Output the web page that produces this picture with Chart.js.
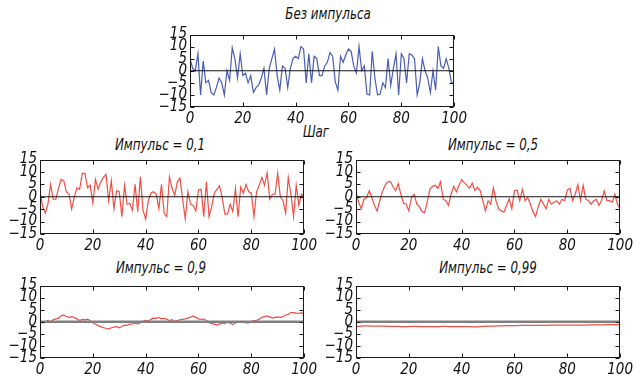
<!DOCTYPE html>
<html>
<head>
<meta charset="utf-8">
<script src="https://cdn.jsdelivr.net/npm/chart.js@4.4.1/dist/chart.umd.min.js"></script>
<style>
  html, body { margin: 0; padding: 0; background: #fff; overflow: hidden; }
  body { width: 641px; height: 387px; position: relative; }
  canvas { position: absolute; }
  .ttl {
    position: absolute; transform: translateX(-50%) scaleX(0.88); white-space: nowrap;
    font: italic 15px 'Liberation Sans Narrow', 'DejaVu Sans Condensed', sans-serif;
    line-height: 16px; color: #111;
  }
</style>
</head>
<body>

<div class="ttl" style="left:328px; top:6px;">Без импульса</div>
<div class="ttl" style="left:316px; top:124px;">Шаг</div>
<div class="ttl" style="left:160px; top:137px;">Импульс = 0,1</div>
<div class="ttl" style="left:493px; top:137px;">Импульс = 0,5</div>
<div class="ttl" style="left:161px; top:260px;">Импульс = 0,9</div>
<div class="ttl" style="left:488px; top:260px;">Импульс = 0,99</div>

<canvas id="c0" width="320" height="117" style="left:150px; top:24px;"></canvas>
<canvas id="c1" width="320" height="107" style="left:0px; top:149px;"></canvas>
<canvas id="c2" width="320" height="107" style="left:316px; top:149px;"></canvas>
<canvas id="c3" width="320" height="105" style="left:0px; top:275px;"></canvas>
<canvas id="c4" width="320" height="105" style="left:316px; top:275px;"></canvas>

<script>
// шаги 0..100
var steps = Array.from({ length: 101 }, function (_, i) { return i; });

var xTicks = [0, 20, 40, 60, 80, 100];
var yTicks = [-15, -10, -5, 0, 5, 10, 15];
var yTickLabels = ['\u221215', '\u221210', '\u22125', '0', '5', '10', '15'];

// без импульса
var noMomentum = [5, 1, 0, 7, -10, 4, -5, -4, -9, -10,
    -7, -3, -5, -10, 0, -4, 9.5, 5, -3, 7,
    -2, -1, -5, -2, -9, -7, -6, -3, 1, -10,
    1, 5, 9, -2, -8, 2, 1, -7, 1, 5,
    6, 5, 10, 9, -5, 7, -5, 6, 5, -2,
    -2, 2, 3.5, 7.5, 6, -4.6, -8, 6, 3.5, 6.6,
    9, 8, 2, -1, 10, 0, 2, -9.6, -10, 8,
    -3, -10, -9.6, -5, -7, 5, -6, 1, 7, -10,
    7, 5, -5, 7, 6.5, 5, -10, -5, 5, 0,
    -3, -9, 0, -8, 10, 2, 1, 5, 1, -5, -5];

// импульс 0,1
var momentum01 = [2, -4, -6.6, -3, 5, -1, -1, 3.4, 7, 6.5,
    2, 1, -5, 0, 3.6, 3, 9.4, 9.4, 3.6, 4.6,
    -2.5, 7, 3, 6, 7.8, 9, -1.6, 6.5, -4.8, 2.4,
    2, -8, 4.6, -3, -2.6, -5.4, 5, -6, 8, -5.4,
    -9, -1.6, 1.5, 2, 1, -4.8, 5, -6.6, -8, 8,
    3.5, 0.5, 6, 7.5, -1, -9, 2, -3, -3.5, -5.7,
    2.7, 3, -8, 6, -8, -4, 1.5, 3, 4.4, -0.4,
    -7, -7, -3, -6, 3.4, -8, 4, 1.5, 5, 2,
    1.5, -8, 2, 4.6, 7.8, 4.6, 9.6, -1, 1, 1,
    9.4, 0, -1.6, -6.6, 7.8, 1, -8, 4.6, -3.5, 1, 0];

// импульс 0,5
var momentum05 = [2, -2.2, -4.8, -1, -0.4, 2.4, -0.4, -3.5, -5.7, -1.6,
    2, 4.6, 6, 6.2, 4, 2.4, 5.2, 1, -2.6, -2.9,
    -5.7, -0.4, 1, -2.9, -4, -6, -6.4, -2, 3, 4.2,
    4.6, 3.4, 6, -1, -1.6, -3.5, 1, 4.2, 2, 4.6,
    6.9, 5.6, 4.6, 3.4, 5.5, 2.5, 3.8, 2.5, -1.5, -5.7,
    -1.6, -3, 3.6, -1.6, -4.8, -5.7, -6.2, -3.5, -0.8, -4.8,
    2.4, 2.7, -1.6, 3, -1.6, -0.4, -2.9, -6, -8, -4,
    -1, -3, -4.8, -1, -3, -2.2, -1.6, -3, -1, -1.6,
    2.7, 3.4, -1.6, 1, 4.9, -1.4, 4.6, -1, -1.6, -3,
    -1.6, -1, -3.5, -1.4, 2.4, -1.6, -1.6, -2.2, 1, -3, -4.8];

// импульс 0,9
var momentum09 = [0.2, -0.5, -0.1, 0.5, 0, 0.8, 1.2, 1.5, 2.5, 2.8,
    2.1, 1.8, 2.1, 1.7, 1.2, 0.5, 1, 0.8, 1.1, 0.5,
    -0.4, -1, -1.6, -2, -2.5, -2.7, -3, -2.5, -2.2, -2,
    -2.5, -2, -1.4, -1.5, -1, -0.9, -0.5, -1, -0.4, 0.2,
    0.6, 0.2, 1, 1.5, 1.4, 1.8, 1.2, 1.5, 1, 0.5,
    0.9, 0.2, 0.5, 0.8, 1, 1.2, 1.5, 1.9, 2.3, 1.8,
    1.2, 1, 1.1, 0.5, -0.4, -0.8, -1, -1.4, -1, -0.5,
    -0.8, -0.1, -0.6, -1.2, -0.5, 0, 0.2, -0.1, -0.5, -0.5,
    0.1, 0.5, 0.6, 1.1, 1.8, 2.1, 2.4, 2, 1.5, 1.8,
    2, 1.8, 2.1, 2.8, 3.1, 3.8, 3.8, 3.6, 3.5, 3.8, 2.8];

// импульс 0,99
var momentum099 = [-2.0, -1.9, -1.8, -1.7, -1.7, -1.7, -1.8, -1.8, -1.8, -1.8,
    -1.8, -1.8, -1.9, -1.9, -1.9, -1.9, -1.9, -2.0, -2.0, -2.0,
    -2.0, -1.9, -1.9, -1.9, -2.0, -2.0, -2.0, -2.0, -2.0, -2.0,
    -2.0, -2.0, -1.9, -1.9, -1.9, -2.0, -2.0, -2.0, -2.0, -2.0,
    -2.0, -2.0, -2.0, -2.0, -2.1, -2.1, -2.1, -2.0, -1.9, -1.9,
    -1.8, -1.8, -1.8, -1.7, -1.7, -1.7, -1.6, -1.6, -1.6, -1.6,
    -1.6, -1.6, -1.5, -1.5, -1.5, -1.5, -1.5, -1.5, -1.5, -1.5,
    -1.5, -1.5, -1.5, -1.4, -1.4, -1.4, -1.4, -1.4, -1.4, -1.4,
    -1.4, -1.4, -1.4, -1.4, -1.4, -1.4, -1.4, -1.4, -1.3, -1.3,
    -1.3, -1.3, -1.3, -1.3, -1.3, -1.2, -1.2, -1.2, -1.2, -1.2, -1.2];

var FONT = "'Liberation Sans Narrow', 'DejaVu Sans Condensed', sans-serif";

// рамка и засечки внутрь, как в matplotlib
var framePlugin = {
    id: 'frame',
    afterDraw: function (chart) {
        var ctx = chart.ctx, a = chart.chartArea;
        var sx = chart.scales.x, sy = chart.scales.y;
        var L = Math.round(a.left) + 0.5, R = Math.round(a.right) - 0.5;
        var T = Math.round(a.top) + 0.5, B = Math.round(a.bottom) - 0.5;
        ctx.save();
        ctx.strokeStyle = '#1a1a1a';
        ctx.lineWidth = 1;
        ctx.strokeRect(L, T, R - L, B - T);
        ctx.beginPath();
        xTicks.forEach(function (v) {
            var px = Math.round(sx.getPixelForValue(v)) + 0.5;
            ctx.moveTo(px, B); ctx.lineTo(px, B - 4);
            ctx.moveTo(px, T); ctx.lineTo(px, T + 4);
        });
        yTicks.forEach(function (v) {
            var py = Math.round(sy.getPixelForValue(v)) + 0.5;
            ctx.moveTo(L, py); ctx.lineTo(L + 4, py);
            ctx.moveTo(R, py); ctx.lineTo(R - 4, py);
        });
        ctx.stroke();
        ctx.restore();
    }
};

function toPoints(arr) {
    return arr.map(function (v, i) { return { x: steps[i], y: v }; });
}

function drawPanel(id, series, color, zeroColor, zeroWidth, xh) {
    var ctx = document.getElementById(id).getContext('2d');
    return new Chart(ctx, {
        type: 'line',
        data: {
            datasets: [{
                data: [{ x: steps[0], y: 0 }, { x: steps[steps.length - 1], y: 0 }],
                borderColor: zeroColor,
                borderWidth: zeroWidth,
                pointRadius: 0
            }, {
                data: toPoints(series),
                borderColor: color,
                borderWidth: 1.2,
                pointRadius: 0,
                tension: 0
            }]
        },
        options: {
            responsive: false,
            devicePixelRatio: 1,
            animation: false,
            events: [],
            layout: { autoPadding: false, padding: { left: 0, right: 8, top: 4, bottom: 0 } },
            plugins: { legend: { display: false }, tooltip: { enabled: false }, title: { display: false } },
            scales: {
                x: {
                    type: 'linear', min: 0, max: 100,
                    grid: { display: false, drawTicks: false },
                    border: { display: false },
                    afterBuildTicks: function (s) { s.ticks = xTicks.map(function (v) { return { value: v }; }); },
                    afterFit: function (s) { s.height = xh; },
                    ticks: {
                        autoSkip: false, maxRotation: 0, padding: 3, color: '#111',
                        font: { family: FONT, size: 15, style: 'italic' },
                        callback: function (v) { return String(v); }
                    }
                },
                y: {
                    min: -15, max: 15,
                    grid: { display: false, drawTicks: false },
                    border: { display: false },
                    afterBuildTicks: function (s) { s.ticks = yTicks.map(function (v) { return { value: v }; }); },
                    afterFit: function (s) { s.width = 40; },
                    ticks: {
                        autoSkip: false, padding: 3, color: '#111',
                        font: { family: FONT, size: 15, style: 'italic', lineHeight: 1 },
                        callback: function (v, i) { return yTickLabels[i]; }
                    }
                }
            }
        },
        plugins: [framePlugin]
    });
}

drawPanel('c0', noMomentum, '#4a5db5', '#111', 1, 34);
drawPanel('c1', momentum01, '#ef4f45', '#111', 1, 22);
drawPanel('c2', momentum05, '#ef4f45', '#111', 1, 22);
drawPanel('c3', momentum09, '#ef4f45', '#808080', 2.5, 22);
drawPanel('c4', momentum099, '#ef4f45', '#808080', 2.5, 22);
</script>
</body>
</html>
